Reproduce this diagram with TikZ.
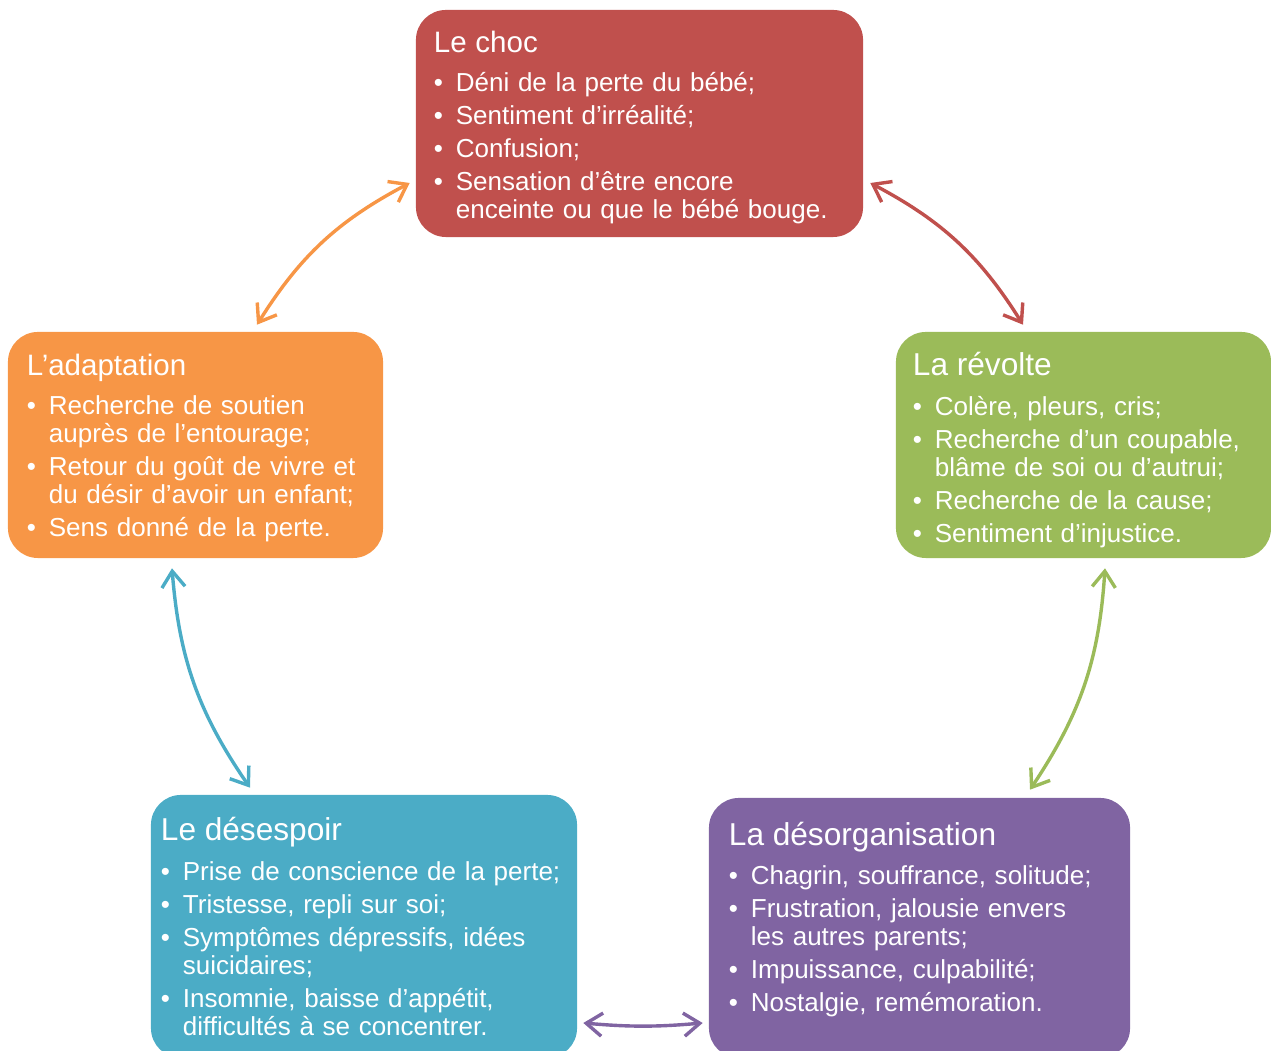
\documentclass[tikz,border=0pt]{standalone}
\usepackage{fontspec}
\setmainfont{Liberation Sans}
\usetikzlibrary{arrows.meta,calc}
\definecolor{choccol}{HTML}{C0504D}
\definecolor{revoltecol}{HTML}{9BBB59}
\definecolor{desorgcol}{HTML}{8064A2}
\definecolor{desespcol}{HTML}{4BACC6}
\definecolor{adaptcol}{HTML}{F79646}
\tikzset{phase/.style={rectangle, rounded corners=0.75cm, text=white, align=left,
    inner ysep=0pt, font=\fontsize{18.5}{19.9}\selectfont},
  cycarrow/.style={{Straight Barb[length=0.4cm,width=0.58cm]}-{Straight Barb[length=0.4cm,width=0.58cm]},
    line width=0.085cm}}
% title: size, strut height, text
\newcommand{\phasetitle}[3]{{\fontsize{#1}{24}\selectfont\rule{0pt}{#2}#3}\\[8pt]}
\newcommand{\puce}{\makebox[15.6pt][l]{•}}
\newcommand{\suite}{\hspace*{15.6pt}}
\newcommand{\fin}[1]{\rule[-#1]{0pt}{#1}}

\begin{document}
\begin{tikzpicture}[x=0.025cm, y=0.025cm]
    \useasboundingbox (0,0) rectangle (1271,1051);
    \clip (0,0) rectangle (1271,1051);

    % Place nodes
    \node [phase, fill=choccol, minimum width=11.175cm, minimum height=5.675cm,
        text width=10.275cm] (choc) at (639.5,927.5) {%
        \phasetitle{21}{20.5pt}{Le choc}
        \puce Déni de la perte du bébé;\\[3.6pt]
        \puce Sentiment d’irréalité;\\[3.6pt]
        \puce Confusion;\\[3.6pt]
        \puce Sensation d’être encore\\
        \suite enceinte ou que le bébé bouge.};
    \node [phase, fill=revoltecol, minimum width=9.375cm, minimum height=5.65cm,
        text width=8.525cm] (revolte) at (1083.5,606) {%
        \phasetitle{22.5}{24pt}{La révolte}
        \puce Colère, pleurs, cris;\\[3.6pt]
        \puce Recherche d’un coupable,\\
        \suite blâme de soi ou d’autrui;\\[3.6pt]
        \puce Recherche de la cause;\\[3.6pt]
        \puce Sentiment d’injustice.};
    \node [phase, fill=desorgcol, minimum width=10.525cm, minimum height=6.5cm,
        text width=9.525cm] (desorg) at (919.5,123) {%
        \phasetitle{22.5}{0pt}{La désorganisation}
        \puce Chagrin, souffrance, solitude;\\[3.6pt]
        \puce Frustration, jalousie envers\\
        \suite les autres parents;\\[3.6pt]
        \puce Impuissance, culpabilité;\\[3.6pt]
        \puce Nostalgie, remémoration.\fin{16pt}};
    \node [phase, fill=desespcol, minimum width=10.65cm, minimum height=6.575cm,
        text width=10.15cm] (desesp) at (364,124.5) {%
        \phasetitle{22.5}{0pt}{Le désespoir}
        \puce Prise de conscience de la perte;\\[3.6pt]
        \puce Tristesse, repli sur soi;\\[3.6pt]
        \puce Symptômes dépressifs, idées\\
        \suite suicidaires;\\[3.6pt]
        \puce Insomnie, baisse d’appétit,\\
        \suite difficultés à se concentrer.};
    \node [phase, fill=adaptcol, minimum width=9.375cm, minimum height=5.65cm,
        text width=8.425cm] (adapt) at (195.5,606) {%
        \phasetitle{21}{19pt}{L’adaptation}
        \puce Recherche de soutien\\
        \suite auprès de l’entourage;\\[3.6pt]
        \puce Retour du goût de vivre et\\
        \suite du désir d’avoir un enfant;\\[3.6pt]
        \puce Sens donné de la perte.};

    % Draw edges
    \draw [cycarrow, choccol] ($(choc.east)+(7,-59.5)$) to [bend left=15] ($(revolte.north)+(-60.5,7)$);
    \draw [cycarrow, revoltecol] ($(revolte.south)+(21.5,-10)$) to [bend left=15] ($(desorg.north)+(110.5,8)$);
    \draw [cycarrow, desorgcol] ($(desorg.west)+(-6,-95)$) to [bend left=5] ($(desesp.east)+(6,-96.5)$);
    \draw [cycarrow, desespcol] ($(desesp.north)+(-114,7)$) to [bend left=15] ($(adapt.south)+(-23.5,-10)$);
    \draw [cycarrow, adaptcol] ($(adapt.north)+(61.5,7)$) to [bend left=15] ($(choc.west)+(-6,-59.5)$);

\end{tikzpicture}
\end{document}
